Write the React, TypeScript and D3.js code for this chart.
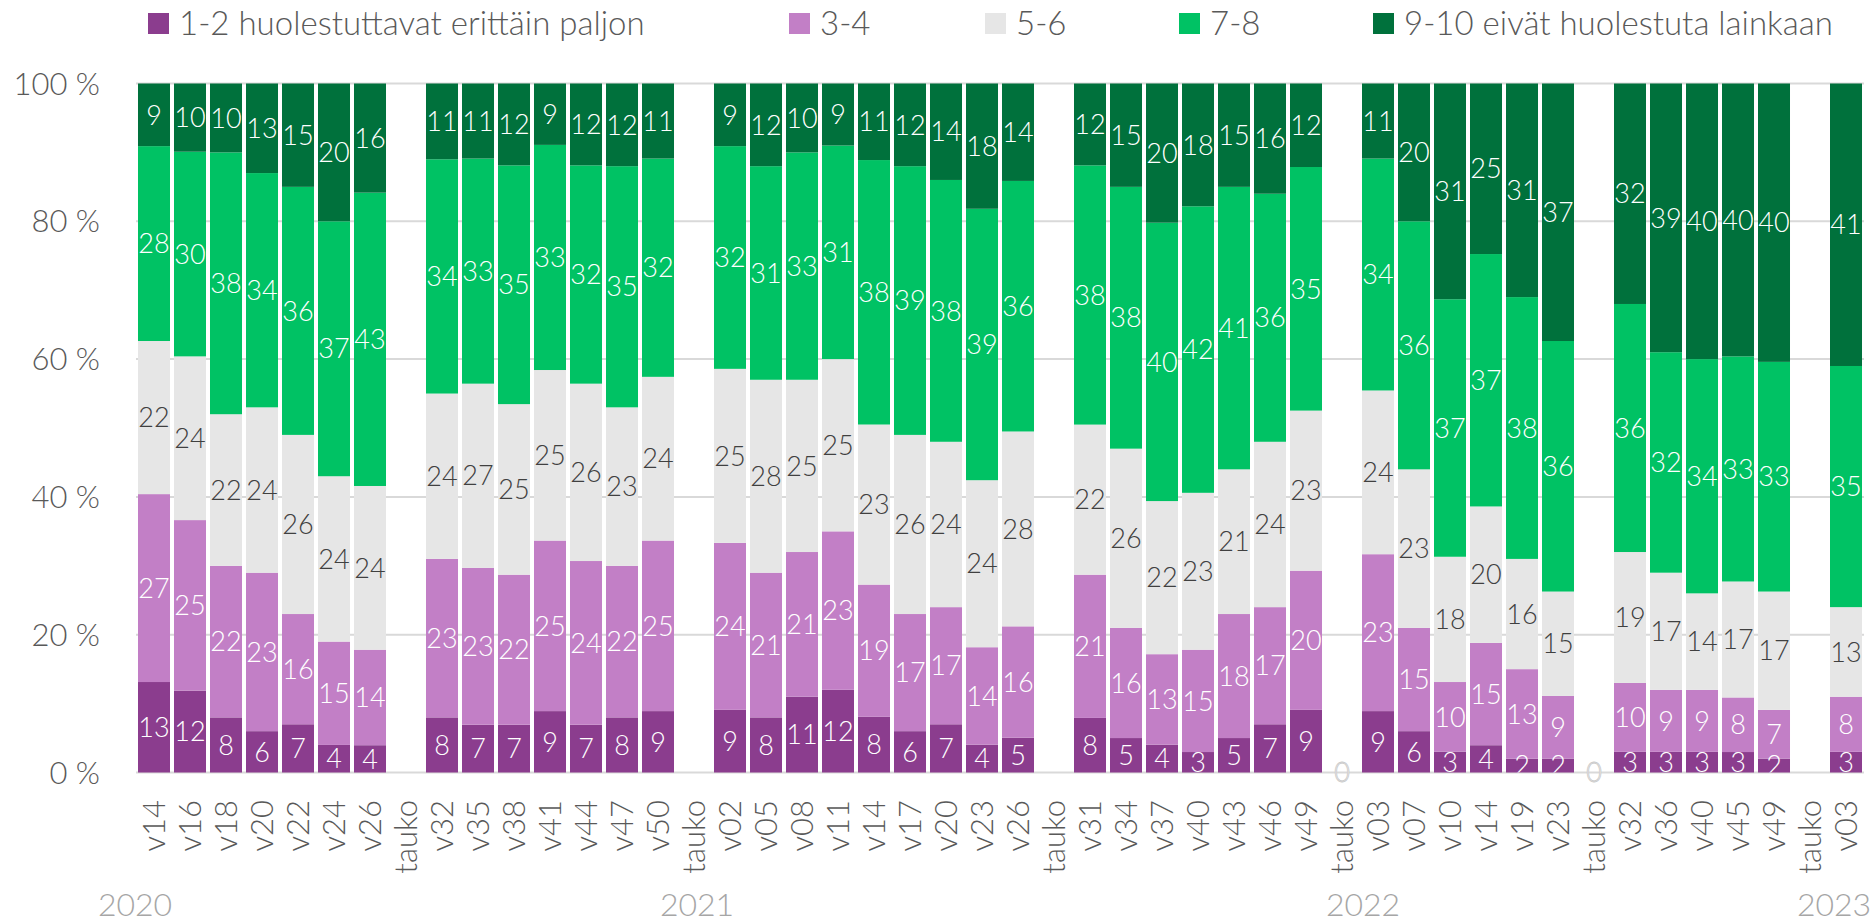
import React from "react";
import * as d3 from "d3";

const categories = [
  "v14","v16","v18","v20","v22","v24","v26","tauko",
  "v32","v35","v38","v41","v44","v47","v50","tauko",
  "v02","v05","v08","v11","v14","v17","v20","v23","v26","tauko",
  "v31","v34","v37","v40","v43","v46","v49","tauko",
  "v03","v07","v10","v14","v19","v23","tauko",
  "v32","v36","v40","v45","v49","tauko",
  "v03",
];

// null = no data (tauko without label), 0 = tauko with a "0" label
const s12 = [13,12,8,6,7,4,4,null, 8,7,7,9,7,8,9,null, 9,8,11,12,8,6,7,4,5,null, 8,5,4,3,5,7,9,0, 9,6,3,4,2,2,0, 3,3,3,3,2,null, 3];
const s34 = [27,25,22,23,16,15,14,null, 23,23,22,25,24,22,25,null, 24,21,21,23,19,17,17,14,16,null, 21,16,13,15,18,17,20,0, 23,15,10,15,13,9,0, 10,9,9,8,7,null, 8];
const s56 = [22,24,22,24,26,24,24,null, 24,27,25,25,26,23,24,null, 25,28,25,25,23,26,24,24,28,null, 22,26,22,23,21,24,23,0, 24,23,18,20,16,15,0, 19,17,14,17,17,null, 13];
const s78 = [28,30,38,34,36,37,43,null, 34,33,35,33,32,35,32,null, 32,31,33,31,38,39,38,39,36,null, 38,38,40,42,41,36,35,0, 34,36,37,37,38,36,0, 36,32,34,33,33,null, 35];
const s910 = [9,10,10,13,15,20,16,null, 11,11,12,9,12,12,11,null, 9,12,10,9,11,12,14,18,14,null, 12,15,20,18,15,16,12,0, 11,20,31,25,31,37,0, 32,39,40,40,40,null, 41];

const seriesNames = ["1-2 huolestuttavat erittäin paljon", "3-4", "5-6", "7-8", "9-10 eivät huolestuta lainkaan"];
const seriesColors = ["#8B3D8E", "#C27FC6", "#E6E6E6", "#00C264", "#00713C"];
const labelColors = ["#FFFFFF", "#FFFFFF", "#404040", "#FFFFFF", "#FFFFFF"];
const yTicks = [0, 0.2, 0.4, 0.6, 0.8, 1.0];
const yearLabels = ["2020", "2021", "2022", "2023"];
const yearCatIndex = [0, 16, 34, 47];
const yearOffset = [-19, -33, -15, -12];
const legendX = [148, 789, 985, 1179, 1373];

const W = 1876;
const H = 924;
const FONT = "Lato, 'Noto Sans', sans-serif";

export default function App() {
  const seriesArrays = [s12, s34, s56, s78, s910];
  const keys = ["a", "b", "c", "d", "e"];
  const rows = categories.map((c, i) => {
    const r: any = { idx: i };
    keys.forEach((k, j) => (r[k] = seriesArrays[j][i] ?? 0));
    return r;
  });
  const stack = d3.stack<any>().keys(keys).offset(d3.stackOffsetExpand);
  const stacked = stack(rows);

  const x = d3
    .scaleBand<number>()
    .domain(d3.range(categories.length))
    .range([136, 1864])
    .paddingInner(0.111)
    .paddingOuter(0.0555);
  const y = d3.scaleLinear().domain([0, 1]).range([772.5, 83.5]);

  const dataFs = 27;
  const tickFs = 31;
  const catFs = 31;
  const legendFs = 33;
  const FW = 300;

  return (
    <svg
      width={W}
      height={H}
      style={{ position: "absolute", left: 0, top: 0, background: "#fff" }}
      fontFamily={FONT}
      fontWeight={FW}
    >
      <defs>
        <clipPath id="plotclip">
          <rect x={120} y={60} width={1760} height={712.5} />
        </clipPath>
      </defs>
      {/* legend */}
      {seriesNames.map((n, i) => (
        <g key={n}>
          <rect x={legendX[i]} y={13} width={21} height={21} fill={seriesColors[i]} />
          <text x={legendX[i] + 31} y={35} fontSize={legendFs} fill="#595959">
            {n}
          </text>
        </g>
      ))}
      {/* gridlines */}
      {yTicks.map((t) => (
        <g key={t}>
          <line x1={136} x2={1864} y1={y(t)} y2={y(t)} stroke="#D9D9D9" strokeWidth={2} />
          <text
            x={100}
            y={y(t) + tickFs * 0.36}
            textAnchor="end"
            fontSize={tickFs}
            fill="#595959"
          >
            {`${Math.round(t * 100)} %`}
          </text>
        </g>
      ))}
      {/* bars */}
      {stacked.map((layer, si) => (
        <g key={si}>
          {layer.map((d, i) => {
            if (!isFinite(d[0]) || !isFinite(d[1]) || d[1] - d[0] <= 0) return null;
            return (
              <rect
                key={i}
                x={x(i)}
                width={x.bandwidth()}
                y={y(d[1])}
                height={y(d[0]) - y(d[1])}
                fill={seriesColors[si]}
              />
            );
          })}
        </g>
      ))}
      {/* data labels */}
      <g clipPath="url(#plotclip)">
        {stacked.map((layer, si) => (
          <g key={si}>
            {layer.map((d, i) => {
              if (!isFinite(d[0]) || !isFinite(d[1])) return null;
              const v = seriesArrays[si][i];
              if (v === null || v === 0) return null;
              const cy = (y(d[0]) + y(d[1])) / 2;
              return (
                <text
                  key={i}
                  x={(x(i) as number) + x.bandwidth() / 2}
                  y={cy + dataFs * 0.36}
                  textAnchor="middle"
                  fontSize={dataFs}
                  fill={labelColors[si]}
                >
                  {v}
                </text>
              );
            })}
          </g>
        ))}
      </g>
      {/* zero labels on empty columns */}
      {categories.map((c, i) => {
        const allZero = seriesArrays.every((s) => s[i] === 0);
        if (!allZero) return null;
        return (
          <text
            key={i}
            x={(x(i) as number) + x.bandwidth() / 2}
            y={y(0) + dataFs * 0.36}
            textAnchor="middle"
            fontSize={dataFs}
            fill="#FFFFFF"
            stroke="#C8C8C8"
            strokeWidth={0.8}
          >
            0
          </text>
        );
      })}
      {/* category labels */}
      {categories.map((c, i) => (
        <text
          key={i}
          transform={`translate(${(x(i) as number) + x.bandwidth() / 2},800) rotate(-90)`}
          x={0}
          y={catFs * 0.36}
          textAnchor="end"
          fontSize={catFs}
          fill="#595959"
        >
          {c}
        </text>
      ))}
      {/* year labels */}
      {yearLabels.map((yl, i) => (
        <text
          key={yl}
          x={(x(yearCatIndex[i]) as number) + x.bandwidth() / 2 + yearOffset[i]}
          y={916}
          textAnchor="middle"
          fontSize={32}
          fill="#A6A6A6"
        >
          {yl}
        </text>
      ))}
    </svg>
  );
}
